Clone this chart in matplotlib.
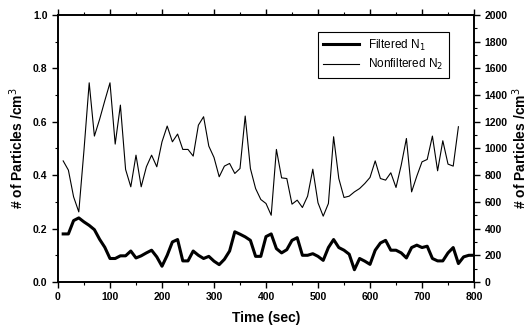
import numpy as np
import matplotlib.pyplot as plt
from matplotlib.ticker import MultipleLocator

plt.rcParams['font.family'] = ['Liberation Sans', 'DejaVu Sans']

# 时间轴 (秒)
t_filt = np.arange(10, 801, 10)
t_nonf = np.arange(10, 771, 10)

# Filtered N1, 左轴 (# /cm^3)
filtered = [0.18, 0.18, 0.23, 0.24, 0.225, 0.212, 0.196, 0.16, 0.13, 0.088,
            0.088, 0.098, 0.098, 0.116, 0.09, 0.098, 0.109, 0.119, 0.094, 0.059,
            0.1, 0.15, 0.159, 0.079, 0.079, 0.116, 0.1, 0.088, 0.096, 0.078,
            0.065, 0.085, 0.116, 0.188, 0.179, 0.169, 0.156, 0.096, 0.096, 0.17,
            0.18, 0.125, 0.109, 0.121, 0.156, 0.166, 0.1, 0.1, 0.106, 0.096,
            0.081, 0.129, 0.159, 0.129, 0.119, 0.104, 0.046, 0.088, 0.078, 0.066,
            0.119, 0.146, 0.156, 0.119, 0.119, 0.109, 0.09, 0.129, 0.138, 0.129,
            0.134, 0.088, 0.079, 0.079, 0.109, 0.129, 0.069, 0.094, 0.1, 0.1]

# Nonfiltered N2, 右轴 (# /cm^3)
nonfiltered = [907, 838, 638, 525, 988, 1492, 1093, 1218, 1358, 1492,
               1033, 1325, 843, 713, 950, 713, 863, 950, 863, 1050,
               1168, 1050, 1108, 993, 993, 943, 1175, 1238, 1018, 933,
               788, 868, 888, 813, 850, 1243, 850, 700, 618, 588,
               500, 993, 780, 775, 583, 613, 558, 643, 845, 593,
               493, 588, 1088, 775, 633, 643, 675, 700, 738, 783,
               907, 775, 763, 818, 708, 875, 1075, 675, 793, 900,
               918, 1093, 833, 1058, 883, 868, 1163]

fig = plt.figure(figsize=(5.32, 3.26), dpi=100)
ax = fig.add_axes([0.109, 0.135, 0.782, 0.819])
ax2 = ax.twinx()

l1, = ax.plot(t_filt, filtered, color='black', lw=2.2, label='Filtered N$_1$')
l2, = ax2.plot(t_nonf, nonfiltered, color='black', lw=0.8, label='Nonfiltered N$_2$')

ax.set_xlim(0, 800)
ax.set_ylim(0, 1.0)
ax2.set_ylim(0, 2000)

ax.xaxis.set_major_locator(MultipleLocator(100))
ax.xaxis.set_minor_locator(MultipleLocator(50))
ax.yaxis.set_major_locator(MultipleLocator(0.2))
ax.yaxis.set_minor_locator(MultipleLocator(0.1))
ax2.yaxis.set_major_locator(MultipleLocator(200))
ax2.yaxis.set_minor_locator(MultipleLocator(100))
ax.yaxis.set_major_formatter(plt.FormatStrFormatter('%.1f'))

for a in (ax, ax2):
    a.tick_params(which='major', direction='out', length=4, width=1, labelsize=7.5)
    a.tick_params(which='minor', direction='out', length=2.5, width=0.8)
    for s in a.spines.values():
        s.set_linewidth(1.2)
ax.tick_params(top=True, which='both')
for lab in ax.get_xticklabels() + ax.get_yticklabels() + ax2.get_yticklabels():
    lab.set_fontweight('bold')

ax.set_xlabel('Time (sec)', fontsize=10, fontweight='bold', labelpad=6)
ax.set_ylabel('# of Particles /cm$^3$', fontsize=10, fontweight='bold', labelpad=5)
ax2.set_ylabel('# of Particles /cm$^3$', fontsize=10, fontweight='bold', rotation=90, labelpad=2)

leg = ax2.legend(handles=[l1, l2], loc='upper right', bbox_to_anchor=(0.955, 0.96),
                 fontsize=8.5, fancybox=False, edgecolor='black', framealpha=1,
                 handlelength=3, borderpad=0.5, labelspacing=0.4)
leg.get_frame().set_linewidth(0.8)

plt.savefig('out.png', dpi=100)
